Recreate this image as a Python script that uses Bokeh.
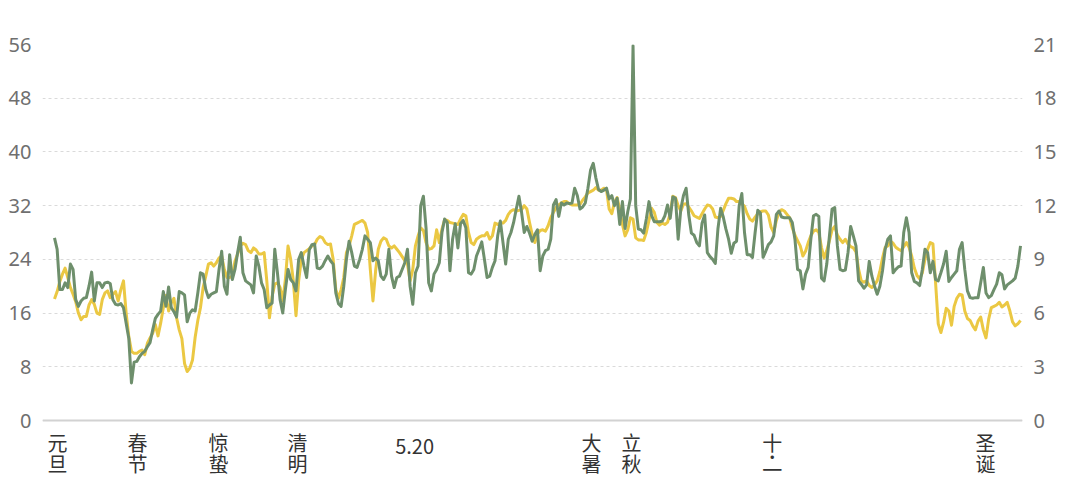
from bokeh.plotting import figure
from bokeh.models import Range1d, LinearAxis, FixedTicker, Span
from bokeh.core.properties import value
from bokeh.embed import file_html
from bokeh.resources import INLINE

# daily values for 2022 (day 0 = Jan 1)
days = list(range(365))

green = [
    27.2, 25.5, 19.5, 19.5, 20.5, 19.8, 23.3, 22.5, 18.0, 17.0,
    17.8, 18.2, 18.3, 20.0, 22.1, 17.8, 20.5, 20.5, 19.8, 20.5,
    20.6, 20.4, 18.0, 17.3, 17.2, 17.4, 16.8, 14.5, 12.2, 5.6,
    8.7, 8.8, 9.5, 10.0, 10.3, 11.0, 11.6, 13.5, 15.2, 15.8,
    16.3, 19.2, 17.0, 19.9, 16.8, 16.2, 15.4, 19.2, 19.0, 18.7,
    14.7, 16.0, 16.5, 16.3, 19.0, 22.0, 21.8, 19.5, 18.3, 18.8,
    19.0, 19.2, 22.5, 25.2, 20.0, 18.8, 24.7, 21.0, 22.5, 25.0,
    27.3, 22.0, 20.8, 20.5, 20.2, 19.0, 24.5, 23.0, 20.5, 19.5,
    16.8, 17.2, 17.5, 25.5, 22.0, 18.0, 16.0, 19.5, 22.5, 21.0,
    20.5, 19.3, 24.0, 25.0, 23.0, 21.3, 25.4, 26.2, 26.3, 22.7,
    22.6, 23.0, 23.8, 24.5, 23.8, 23.3, 19.0, 17.4, 17.0, 20.0,
    24.0, 26.7, 25.0, 23.0, 22.8, 24.0, 25.5, 27.5, 27.0, 26.5,
    23.8, 24.2, 23.8, 21.5, 21.0, 21.8, 25.5, 21.5, 19.8, 21.3,
    21.5, 22.5, 23.5, 25.5, 20.0, 17.3, 22.0, 23.0, 32.0, 33.4,
    28.7, 20.5, 19.3, 21.8, 22.5, 23.5, 28.0, 30.0, 29.5, 22.3,
    27.0, 29.3, 25.7, 29.3, 29.8, 28.7, 22.0, 21.8, 22.5, 24.5,
    25.5, 26.6, 24.0, 21.3, 21.5, 22.8, 23.8, 27.5, 29.7, 26.5,
    23.3, 27.0, 28.0, 29.5, 31.5, 33.4, 31.0, 28.0, 28.9, 27.9,
    26.7, 27.7, 28.4, 22.3, 24.5, 25.3, 25.5, 27.0, 32.1, 32.9,
    30.4, 32.4, 32.1, 32.4, 32.3, 32.4, 34.6, 33.5, 31.5, 31.8,
    32.4, 34.6, 37.3, 38.3, 36.1, 34.4, 34.1, 34.3, 34.6, 33.0,
    33.5, 32.0, 33.1, 29.2, 32.6, 28.6, 31.1, 33.0, 55.8, 32.0,
    28.5, 28.4, 27.9, 30.0, 32.6, 30.5, 29.6, 29.6, 29.6, 29.7,
    30.5, 32.1, 30.1, 33.3, 33.1, 27.0, 31.5, 33.5, 34.6, 30.6,
    27.9, 27.6, 26.5, 26.0, 29.4, 30.6, 25.0, 24.4, 24.0, 23.4,
    28.6, 31.6, 30.3, 28.5, 27.0, 24.9, 26.4, 26.7, 32.0, 33.8,
    28.0, 24.7, 24.7, 24.3, 28.0, 31.3, 30.9, 24.3, 25.2, 26.2,
    26.6, 27.5, 30.7, 31.2, 30.3, 30.2, 30.2, 30.2, 29.5, 27.0,
    22.5, 22.3, 19.6, 21.8, 22.8, 27.0, 30.5, 30.7, 30.4, 21.2,
    20.8, 23.3, 27.5, 31.5, 31.7, 26.0, 22.5, 22.3, 22.4, 25.0,
    28.9, 27.5, 26.0, 20.8, 20.3, 19.7, 20.2, 23.7, 21.5, 20.0,
    18.8, 20.0, 22.3, 25.5, 27.0, 27.5, 22.0, 22.5, 22.9, 23.0,
    28.0, 30.2, 28.0, 22.0, 20.7, 20.5, 20.1, 22.5, 25.5, 25.0,
    22.0, 23.7, 21.0, 20.8, 22.0, 23.3, 25.2, 20.7, 21.3, 21.8,
    22.3, 25.5, 26.5, 22.5, 19.3, 18.3, 18.2, 18.3, 18.3, 20.5,
    22.8, 19.0, 18.3, 18.6, 19.5, 20.3, 22.0, 21.7, 19.6, 20.2,
    20.5, 20.8, 21.2, 23.0, 26.0,
]

yellow = [
    18.1, 19.2, 20.7, 21.8, 22.7, 21.3, 19.8, 18.8, 17.7, 16.0,
    15.0, 15.5, 15.5, 17.2, 18.0, 17.3, 16.0, 15.8, 18.0, 19.0,
    19.3, 18.3, 18.8, 19.2, 17.8, 19.5, 20.8, 16.0, 12.5, 10.3,
    10.0, 10.0, 10.3, 10.5, 9.8, 11.5, 12.3, 13.0, 14.3, 12.6,
    14.5, 16.8, 18.6, 16.3, 17.5, 18.2, 15.3, 13.5, 12.2, 8.5,
    7.3, 7.8, 9.0, 12.4, 14.9, 16.8, 19.8, 21.5, 23.3, 23.5,
    23.0, 23.5, 24.2, 24.5, 22.5, 21.3, 21.3, 21.5, 23.7, 24.8,
    26.0, 26.4, 26.2, 25.3, 25.0, 25.7, 25.4, 24.8, 24.8, 25.0,
    20.8, 15.3, 18.5, 20.3, 20.5, 19.8, 17.8, 21.0, 26.0, 24.0,
    20.8, 15.6, 20.8, 24.0, 25.0, 25.3, 25.6, 26.0, 26.2, 27.0,
    27.4, 27.2, 26.5, 26.2, 26.3, 24.0, 19.5, 18.2, 19.5, 21.3,
    25.0, 26.0, 27.5, 29.2, 29.4, 29.6, 29.8, 29.4, 28.0, 22.5,
    17.8, 22.3, 25.5, 26.7, 27.2, 27.0, 26.0, 25.7, 26.0, 25.5,
    25.0, 24.4, 23.8, 23.3, 20.8, 22.5, 26.0, 27.5, 28.7, 28.3,
    26.5, 25.5, 25.6, 26.0, 28.4, 26.5, 28.5, 29.9, 29.8, 29.5,
    29.4, 29.3, 29.2, 30.0, 30.7, 30.5, 28.0, 26.5, 26.2, 27.0,
    27.3, 27.5, 27.5, 28.0, 27.0, 27.5, 29.4, 29.2, 29.4, 29.4,
    29.8, 30.7, 31.2, 31.4, 31.2, 31.3, 31.4, 32.0, 31.5, 29.5,
    27.7, 26.5, 27.8, 28.3, 28.4, 28.2, 29.0, 30.2, 31.0, 31.7,
    32.1, 32.4, 32.6, 32.6, 32.3, 32.1, 32.1, 32.1, 32.2, 32.8,
    33.3, 33.9, 34.1, 34.3, 34.7, 34.3, 34.3, 34.6, 34.4, 31.5,
    30.8, 32.5, 33.2, 31.4, 29.2, 27.5, 28.4, 30.2, 30.0, 27.2,
    26.9, 26.9, 26.8, 28.0, 29.8, 31.6, 31.0, 29.5, 29.1, 29.4,
    29.2, 29.5, 30.8, 33.4, 33.2, 32.0, 31.2, 32.2, 32.3, 31.8,
    31.2, 30.5, 30.3, 30.1, 30.8, 31.5, 32.1, 32.0, 31.5, 30.3,
    30.2, 30.4, 31.3, 32.3, 33.1, 33.1, 33.0, 32.6, 32.6, 32.3,
    31.9, 30.8, 30.0, 29.7, 30.3, 30.8, 31.1, 31.2, 31.2, 30.6,
    28.8, 28.0, 29.8, 31.0, 31.4, 31.2, 30.7, 30.2, 28.7, 27.6,
    26.8, 26.0, 24.5, 25.2, 26.5, 27.5, 28.2, 28.4, 28.0, 25.8,
    24.2, 25.3, 26.8, 28.4, 28.9, 27.6, 27.0, 26.5, 27.0, 26.3,
    25.9, 25.7, 25.1, 22.5, 20.8, 20.6, 20.8, 20.1, 19.8, 20.2,
    20.8, 22.2, 24.2, 25.8, 26.0, 26.7, 26.4, 25.8, 25.5, 25.3,
    25.9, 26.5, 25.8, 24.5, 22.7, 21.6, 21.1, 22.0, 24.0, 25.5,
    26.5, 26.3, 20.5, 14.4, 13.1, 14.6, 16.7, 16.3, 14.2, 17.0,
    18.2, 18.8, 18.7, 16.3, 15.2, 14.9, 14.1, 13.5, 14.8, 15.4,
    13.5, 12.3, 15.1, 16.8, 17.0, 17.2, 17.6, 16.9, 17.2, 17.6,
    16.3, 14.7, 14.1, 14.4, 14.9,
]

# x-axis labels, written vertically: first row, optional middle dot, second row
label_days = [1.1, 31.3, 61.8, 91.6, 135.7, 202.3, 217.4, 270.5, 350.8]
label_row1 = ["元", "春", "惊", "清", "5.20", "大", "立", "十", "圣"]
label_row2 = ["旦", "节", "蛰", "明", "", "暑", "秋", "一", "诞"]
label_dot = ["", "", "", "", "", "", "", "·", ""]
left_ticks = [0, 8, 16, 24, 32, 40, 48, 56]
right_ticks = [0, 3, 6, 9, 12, 15, 18, 21]

YELLOW = "#EBC843"
GREEN = "#6E8F6C"
FONT_CJK = "Noto Sans CJK SC"

# frame: 56 units over 376 px; extended below 0 to hold the vertical labels
PX = 376 / 56
FRAME_H = 446
Y_LOW = 56 - FRAME_H / PX

p = figure(width=1064, height=496, output_backend="svg", toolbar_location=None,
           x_range=Range1d(-4.52, 364.75), y_range=Range1d(Y_LOW, 56),
           min_border_left=42, min_border_right=42, min_border_top=44,
           min_border_bottom=496 - 44 - FRAME_H)
p.outline_line_color = None
p.background_fill_color = "white"
p.border_fill_color = "white"
p.xaxis.visible = False

p.extra_y_ranges = {"right": Range1d(Y_LOW * 21 / 56, 21)}
ra = LinearAxis(y_range_name="right")
p.add_layout(ra, "right")

# grid
p.xgrid.visible = False
p.ygrid.ticker = FixedTicker(ticks=left_ticks)
p.ygrid.grid_line_color = "#dadada"
p.ygrid.grid_line_dash = "3 3"
p.ygrid.grid_line_width = 1

# baseline
p.add_layout(Span(location=0, dimension="width", line_color="#d2d2d2", line_width=2))

p.line(days, yellow, color=YELLOW, line_width=3, line_join="round")
p.line(days, green, color=GREEN, line_width=3, line_join="round")

# y axes
p.yaxis[0].ticker = FixedTicker(ticks=left_ticks)
ra.ticker = FixedTicker(ticks=right_ticks)
for ax in (p.yaxis[0], ra):
    ax.axis_line_color = None
    ax.major_tick_line_color = None
    ax.minor_tick_line_color = None
    ax.major_label_text_font = "Noto Sans"
    ax.major_label_text_font_size = "20px"
    ax.major_label_text_color = "#6f6f6f"
    ax.major_label_standoff = 5

# x labels
n = len(label_days)
row1_y = [-3.87 if t == "5.20" else -3.35 for t in label_row1]
row2_y = [-7.3 if t == "一" else -6.33 for t in label_row2]
p.text(x=label_days, y=row1_y, text=label_row1, text_align="center", text_baseline="middle",
       text_font=value(FONT_CJK), text_font_size="20px", text_color="#333333")
p.text(x=label_days, y=row2_y, text=label_row2, text_align="center", text_baseline="middle",
       text_font=value(FONT_CJK), text_font_size="20px", text_color="#333333")
p.text(x=label_days, y=[-5.36] * n, text=label_dot, text_align="center", text_baseline="middle",
       text_font=value(FONT_CJK), text_font_size="16px", text_color="#333333")

open("out.html", "w").write(file_html(p, INLINE))
